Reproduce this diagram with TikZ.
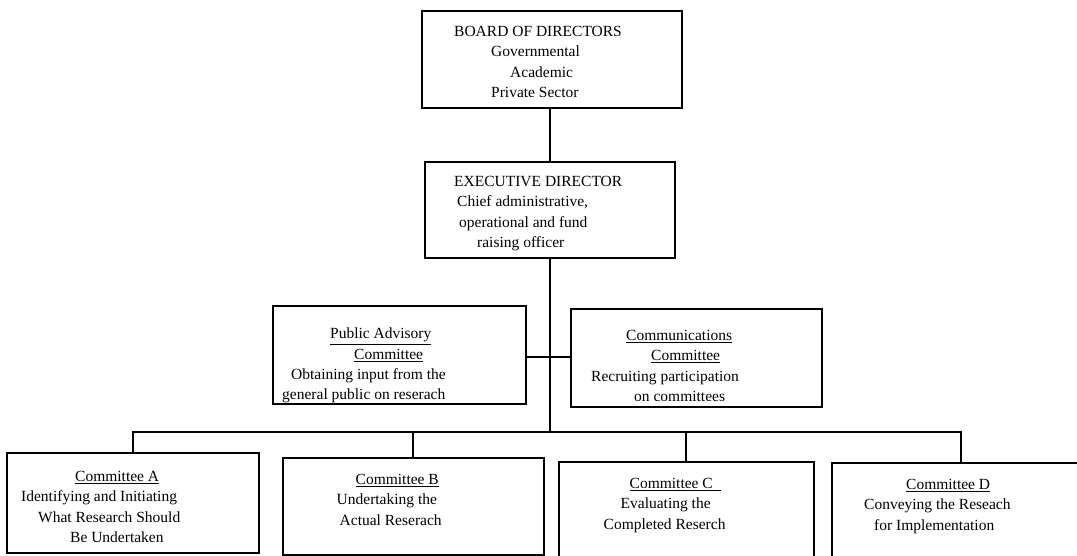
\documentclass[tikz,border=0pt]{standalone}
\usepackage{fontspec}
\setmainfont{Liberation Serif}
\usepackage{tikz}
\usetikzlibrary{positioning}
\tikzstyle{orgbox} = [rectangle, draw=black, line width=2pt, fill=none, inner sep=0pt]
\tikzstyle{boxtext} = [draw=none, fill=none, align=left, inner sep=0pt, text=black, font=\fontsize{15.5}{20.3}\selectfont]
\tikzstyle{link}  = [draw, line width=2pt]

\begin{document}
\begin{tikzpicture}[x=1pt, y=-1pt]
\useasboundingbox (0,0) rectangle (1077,556);
\clip (0,0) rectangle (1077,556);

% boxes =============================
\node[orgbox, minimum width=260pt, minimum height=97pt] (board) at (552,59.5) {};
\node[orgbox, minimum width=250pt, minimum height=96pt] (exec) at (550,210) {};
\node[orgbox, minimum width=253pt, minimum height=98pt] (pub) at (399.5,355) {};
\node[orgbox, minimum width=251pt, minimum height=98pt] (comm) at (696.5,358) {};
\node[orgbox, minimum width=252pt, minimum height=100pt] (ca) at (133,503) {};
\node[orgbox, minimum width=261pt, minimum height=97pt] (cb) at (413,506.5) {};
\node[orgbox, minimum width=255pt, minimum height=100pt] (cc) at (686,512) {};
\node[orgbox, minimum width=258pt, minimum height=100pt] (cd) at (961,513) {};

% texts
\node[boxtext, below right=16pt and 33pt of board.north west] (boardtxt) {BOARD OF DIRECTORS\\
  \hspace*{37pt}Governmental\\ \hspace*{56pt}Academic\\ \hspace*{37pt}Private Sector};
\node[boxtext, below right=15pt and 30pt of exec.north west] (exectxt) {EXECUTIVE DIRECTOR\\
  \hspace*{3pt}Chief administrative,\\ \hspace*{5pt}operational and fund\\ \hspace*{23pt}raising officer};
\node[boxtext, below right=23pt and 10pt of pub.north west] (pubtxt) {\hspace*{48pt}\underline{Public Advisory}\\
  \hspace*{72pt}\underline{Committee}\\ \hspace*{9pt}Obtaining input from the\\ general public on reserach};
\node[boxtext, below right=22pt and 21pt of comm.north west] (commtxt) {\hspace*{35pt}\underline{Communications}\\
  \hspace*{60pt}\underline{Committee}\\ Recruiting participation\\ \hspace*{43pt}on committees};
\node[boxtext, below right=19pt and 15pt of ca.north west] (catxt) {\hspace*{54pt}\underline{Committee A}\\
  Identifying and Initiating\\ \hspace*{17pt}What Research Should\\ \hspace*{49pt}Be Undertaken};
\node[boxtext, below right=17pt and 55pt of cb.north west] (cbtxt) {\hspace*{19pt}\underline{Committee B}\\
  Undertaking the\\ \hspace*{3pt}Actual Reserach};
\node[boxtext, below right=17pt and 46pt of cc.north west] (cctxt) {\hspace*{26pt}\underline{Committee C\ \ }\\
  \hspace*{17pt}Evaluating the\\ Completed Reserch};
\node[boxtext, below right=17pt and 33pt of cd.north west] (cdtxt) {\hspace*{42pt}\underline{Committee D}\\
  Conveying the Reseach\\ \hspace*{10pt}for Implementation};

% junctions
\coordinate (hub) at (550,357);
\coordinate (bus) at (550,432);

% edges
\path[link] (exec.north |- board.south) -- (exec.north);
\path[link] (exec.south) -- (hub);
\path[link] (pub.east |- hub) -- (comm.west |- hub);
\path[link] (hub) -- (bus);
\path[link] (ca.north) -- (ca.north |- bus) -- (cd.north |- bus) -- (cd.north);
\path[link] (cb.north) -- (cb.north |- bus);
\path[link] (cc.north) -- (cc.north |- bus);

\end{tikzpicture}
\end{document}
